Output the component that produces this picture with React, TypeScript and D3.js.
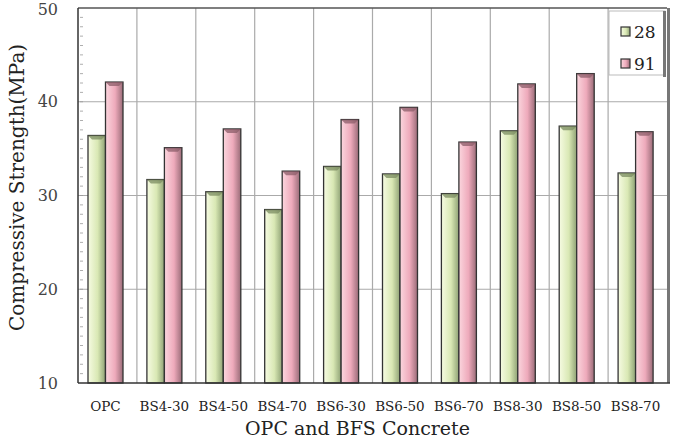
import React, { useEffect, useRef } from 'react';
import * as d3 from 'd3';

const categories = ['OPC', 'BS4-30', 'BS4-50', 'BS4-70', 'BS6-30', 'BS6-50', 'BS6-70', 'BS8-30', 'BS8-50', 'BS8-70'];
const series = ['28', '91'];
const day28 = [36.4, 31.7, 30.4, 28.5, 33.1, 32.3, 30.2, 36.9, 37.4, 32.4];
const day91 = [42.1, 35.1, 37.1, 32.6, 38.1, 39.4, 35.7, 41.9, 43.0, 36.8];
const yTicks = [10, 20, 30, 40, 50];

const FONT = "'DejaVu Serif', serif";

export default function App() {
  const svgRef = useRef<SVGSVGElement>(null);

  useEffect(() => {
    const svg = d3.select(svgRef.current);
    svg.selectAll('*').remove();

    const width = 677;
    const height = 441;
    const margin = { top: 8, right: 10, bottom: 58, left: 78 };
    const innerWidth = width - margin.left - margin.right;
    const innerHeight = height - margin.top - margin.bottom;

    const defs = svg.append('defs');
    const grads = [
      { id: 'g28', stops: ['#f6fbe2', '#d9e8b4', '#8fa275'] },
      { id: 'g91', stops: ['#fbd6de', '#eeaabb', '#9a6c78'] }
    ];
    grads.forEach(gd => {
      const lg = defs.append('linearGradient').attr('id', gd.id)
        .attr('x1', '0%').attr('x2', '100%').attr('y1', '0%').attr('y2', '0%');
      lg.append('stop').attr('offset', '0%').attr('stop-color', gd.stops[0]);
      lg.append('stop').attr('offset', '55%').attr('stop-color', gd.stops[1]);
      lg.append('stop').attr('offset', '100%').attr('stop-color', gd.stops[2]);
    });

    const g = svg.append('g').attr('transform', `translate(${margin.left},${margin.top})`);

    const x = d3.scaleBand().domain(categories).range([0, innerWidth]);
    const y = d3.scaleLinear().domain([10, 50]).range([innerHeight, 0]);
    const xs = d3.scaleBand().domain(series).range([10, 45]);

    // right shadow edge
    g.append('rect')
      .attr('x', innerWidth).attr('y', 0).attr('width', 3).attr('height', innerHeight)
      .attr('fill', '#777');

    // grid
    g.selectAll('.hgrid').data(yTicks.slice(1, -1)).join('line')
      .attr('x1', 0).attr('x2', innerWidth)
      .attr('y1', d => y(d)).attr('y2', d => y(d))
      .attr('stroke', '#aaa').attr('stroke-width', 1.2);
    g.selectAll('.vgrid').data(categories.slice(1)).join('line')
      .attr('x1', d => x(d)!).attr('x2', d => x(d)!)
      .attr('y1', 0).attr('y2', innerHeight)
      .attr('stroke', '#aaa').attr('stroke-width', 1.2);

    // minor ticks
    g.selectAll('.minor').data(d3.range(11, 50)).join('line')
      .attr('x1', 2).attr('x2', 5)
      .attr('y1', d => y(d)).attr('y2', d => y(d))
      .attr('stroke', '#999').attr('stroke-width', 0.8);

    // bars
    const bars = categories.flatMap((c, i) => [
      { cat: c, s: '28', v: day28[i] },
      { cat: c, s: '91', v: day91[i] }
    ]);
    const bg = g.selectAll('.bar').data(bars).join('g');
    bg.append('rect')
      .attr('x', d => x(d.cat)! + xs(d.s)!)
      .attr('y', d => y(d.v))
      .attr('width', xs.bandwidth())
      .attr('height', d => innerHeight - y(d.v))
      .attr('fill', d => `url(#g${d.s})`)
      .attr('stroke', '#333')
      .attr('stroke-width', 1.3);
    // top bevel
    bg.append('path')
      .attr('d', d => {
        const x0 = x(d.cat)! + xs(d.s)!;
        const x1 = x0 + xs.bandwidth();
        const y0 = y(d.v);
        return `M${x0},${y0} L${x1},${y0} L${x1 - 4},${y0 + 4} L${x0 + 4},${y0 + 4} Z`;
      })
      .attr('fill', d => d.s === '28' ? '#7b8c62' : '#8c5e6a')
      .attr('opacity', 0.75);

    // frame
    g.append('line').attr('x1', 0).attr('x2', innerWidth).attr('y1', 0).attr('y2', 0)
      .attr('stroke', '#555').attr('stroke-width', 1.5);
    g.append('line').attr('x1', 0).attr('x2', 0).attr('y1', 0).attr('y2', innerHeight)
      .attr('stroke', '#333').attr('stroke-width', 1.5);
    g.append('line').attr('x1', 0).attr('x2', innerWidth + 3).attr('y1', innerHeight).attr('y2', innerHeight)
      .attr('stroke', '#333').attr('stroke-width', 1.5);

    // y tick labels
    g.selectAll('.ylab').data(yTicks).join('text')
      .attr('x', -20).attr('y', d => y(d) + (d === 50 ? 1 : 0)).attr('dy', '0.35em')
      .attr('text-anchor', 'end')
      .style('font-family', FONT).style('font-size', '16px').attr('fill', '#444')
      .text(d => d);

    // x tick labels
    g.selectAll('.xlab').data(categories).join('text')
      .attr('x', d => x(d)! + x.bandwidth() / 2 - 2).attr('y', innerHeight + 28)
      .attr('text-anchor', 'middle')
      .style('font-family', FONT).style('font-size', '13.5px').attr('fill', '#222')
      .text(d => d);

    // axis titles
    svg.append('text')
      .attr('x', margin.left + innerWidth / 2 - 15).attr('y', height - 6)
      .attr('text-anchor', 'middle')
      .style('font-family', FONT).style('font-size', '19px').attr('fill', '#222')
      .text('OPC and BFS Concrete');
    svg.append('text')
      .attr('transform', `translate(24,${margin.top + innerHeight / 2 - 8}) rotate(-90)`)
      .attr('text-anchor', 'middle')
      .style('font-family', FONT).style('font-size', '20px').attr('fill', '#222')
      .text('Compressive Strength(MPa)');

    // legend
    const lg = g.append('g').attr('transform', `translate(${innerWidth - 58},3)`);
    lg.append('rect').attr('x', 0).attr('y', 0).attr('width', 56).attr('height', 64)
      .attr('fill', '#fff').attr('stroke', '#bbb').attr('stroke-width', 1);
    lg.append('rect').attr('x', 54).attr('y', 0).attr('width', 3).attr('height', 66).attr('fill', '#777');
    series.forEach((s, i) => {
      lg.append('rect').attr('x', 12).attr('y', 16 + i * 32).attr('width', 9).attr('height', 9)
        .attr('fill', `url(#g${s})`).attr('stroke', '#333').attr('stroke-width', 1.2);
      lg.append('text').attr('x', 25).attr('y', 21 + i * 32).attr('dy', '0.35em')
        .style('font-family', FONT).style('font-size', '17px').attr('fill', '#222')
        .text(s);
    });
  }, []);

  return <svg ref={svgRef} width={677} height={441} style={{ display: 'block', position: 'absolute', left: 0, top: 0 }} />;
}
